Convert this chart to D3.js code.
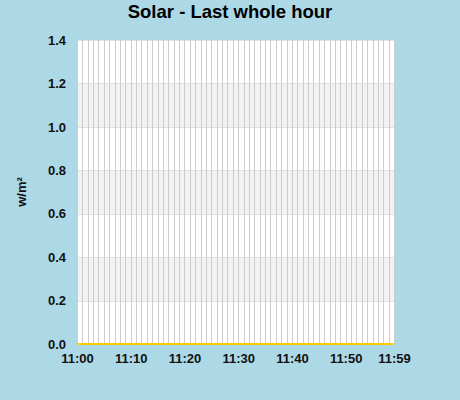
<!DOCTYPE html>
<html>
<head>
<meta charset="utf-8">
<script src="https://cdn.jsdelivr.net/npm/d3@7"></script>
<style>
  body { margin: 0; background: #add8e6; }
  text { font-family: "Liberation Sans", Arial, sans-serif; font-weight: bold; }
</style>
</head>
<body>
<div id="chart"></div>
<script>
// minutes past 11:00, one reading per minute
const minutes = [0,1,2,3,4,5,6,7,8,9,10,11,12,13,14,15,16,17,18,19,
  20,21,22,23,24,25,26,27,28,29,30,31,32,33,34,35,36,37,38,39,
  40,41,42,43,44,45,46,47,48,49,50,51,52,53,54,55,56,57,58,59];
const solar = [0,0,0,0,0,0,0,0,0,0,0,0,0,0,0,0,0,0,0,0,
  0,0,0,0,0,0,0,0,0,0,0,0,0,0,0,0,0,0,0,0,
  0,0,0,0,0,0,0,0,0,0,0,0,0,0,0,0,0,0,0,0];
const xTicks = [0, 10, 20, 30, 40, 50, 59];
const xTickLabels = ["11:00", "11:10", "11:20", "11:30", "11:40", "11:50", "11:59"];
const yTicks = [0, 0.2, 0.4, 0.6, 0.8, 1.0, 1.2, 1.4];

const width = 460, height = 400;
const margin = { top: 40, right: 66, bottom: 56, left: 77 };

const svg = d3.select("#chart").append("svg")
    .attr("width", width)
    .attr("height", height);

svg.append("rect").attr("width", width).attr("height", height).attr("fill", "#add8e6");

let x = d3.scaleLinear().domain([0, 59]).range([margin.left, width - margin.right])
let y = d3.scaleLinear().domain([0, 1.4]).range([height - margin.bottom, margin.top])

const plot = svg.append("g").attr("class", "plot");

plot.append("rect")
    .attr("x", x(0)).attr("y", y(1.4))
    .attr("width", x(59) - x(0)).attr("height", y(0) - y(1.4))
    .attr("fill", "#fff");

// alternating bands
plot.selectAll("rect.band")
    .data(yTicks.slice(0, -1).filter((d, i) => i % 2 == 1))
    .enter().append("rect")
    .attr("class", "band")
    .attr("x", x(0))
    .attr("y", d => y(d + 0.2))
    .attr("width", x(59) - x(0))
    .attr("height", d => y(d) - y(d + 0.2))
    .attr("fill", "#f2f2f2");

plot.selectAll("line.hgrid").data(yTicks).enter().append("line")
    .attr("class", "hgrid")
    .attr("x1", x(0)).attr("x2", x(59))
    .attr("y1", d => Math.round(y(d)) + 0.5).attr("y2", d => Math.round(y(d)) + 0.5)
    .attr("stroke", "#e0e0e0");

plot.selectAll("line.vgrid").data(minutes).enter().append("line")
    .attr("class", "vgrid")
    .attr("x1", d => Math.round(x(d)) + 0.5).attr("x2", d => Math.round(x(d)) + 0.5)
    .attr("y1", y(1.4)).attr("y2", y(0))
    .attr("stroke", "#cccccc");

// series
const line = d3.line().x((d, i) => x(minutes[i])).y(d => y(d));
plot.append("path")
    .datum(solar)
    .attr("d", line)
    .attr("fill", "none")
    .attr("stroke", "#ffcc00")
    .attr("stroke-width", 2);

// axes
const yAxis = d3.axisLeft(y).tickValues(yTicks).tickFormat(d3.format(".1f")).tickSize(0).tickPadding(11);
const xAxis = d3.axisBottom(x).tickValues(xTicks).tickFormat((d, i) => xTickLabels[i]).tickSize(0).tickPadding(10);

const yAxisGroup = svg.append("g").attr("transform", `translate(${margin.left}, 0)`).call(yAxis);
const xAxisGroup = svg.append("g").attr("transform", `translate(0, ${height - margin.bottom})`).call(xAxis);

[yAxisGroup, xAxisGroup].forEach(g => {
    g.select(".domain").remove();
    g.selectAll("text")
        .attr("fill", "#111")
        .style("font-size", "13px")
        .style("font-family", "'Liberation Sans', Arial, sans-serif")
        .style("font-weight", "bold");
});

svg.append("text")
    .attr("x", 230).attr("y", 18)
    .style("text-anchor", "middle")
    .style("font-size", "18.5px")
    .attr("fill", "#000")
    .text("Solar - Last whole hour");

svg.append("text")
    .attr("transform", "rotate(-90)")
    .attr("x", -192).attr("y", 26)
    .style("text-anchor", "middle")
    .style("font-size", "13px")
    .attr("fill", "#111")
    .text("w/m²");
</script>
</body>
</html>
